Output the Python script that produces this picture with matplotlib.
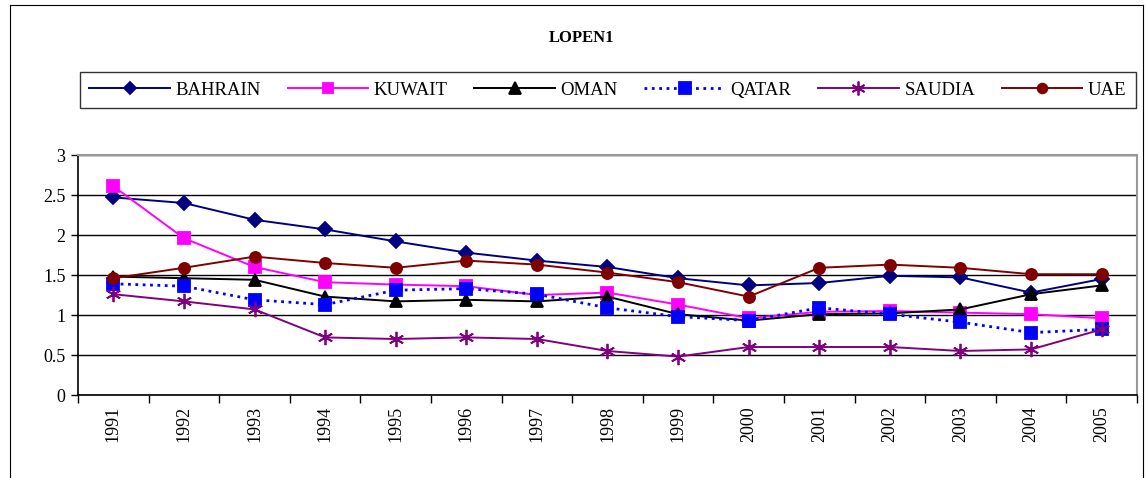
import matplotlib
matplotlib.use("Agg")
import matplotlib.pyplot as plt
from matplotlib.lines import Line2D

plt.rcParams['font.family'] = ['Liberation Serif', 'DejaVu Serif']

years = ['1991', '1992', '1993', '1994', '1995', '1996', '1997', '1998',
         '1999', '2000', '2001', '2002', '2003', '2004', '2005']

bahrain = [2.47, 2.40, 2.19, 2.07, 1.92, 1.78, 1.68, 1.60, 1.46, 1.37, 1.40, 1.49, 1.47, 1.28, 1.45]
kuwait = [2.61, 1.96, 1.60, 1.41, 1.38, 1.36, 1.25, 1.28, 1.13, 0.96, 1.04, 1.05, 1.03, 1.01, 0.96]
oman = [1.48, 1.46, 1.44, 1.23, 1.17, 1.19, 1.17, 1.23, 1.01, 0.93, 1.01, 1.02, 1.07, 1.26, 1.37]
qatar = [1.39, 1.36, 1.19, 1.13, 1.31, 1.33, 1.26, 1.09, 0.98, 0.93, 1.09, 1.01, 0.91, 0.78, 0.82]
saudia = [1.26, 1.17, 1.07, 0.72, 0.70, 0.72, 0.70, 0.55, 0.48, 0.60, 0.60, 0.60, 0.55, 0.57, 0.82]
uae = [1.46, 1.59, 1.73, 1.65, 1.59, 1.68, 1.63, 1.53, 1.41, 1.23, 1.59, 1.63, 1.59, 1.51, 1.51]

series = [
    ('BAHRAIN', bahrain, '#000080', 'D', '-', 7),
    ('KUWAIT', kuwait, '#FF00FF', 's', '-', 8),
    ('OMAN', oman, '#000000', '^', '-', 9),
    ('QATAR', qatar, '#0000FF', 's', ':', 9),
    ('SAUDIA', saudia, '#800080', (6, 2, 0), '-', 11),
    ('UAE', uae, '#800000', 'o', '-', 8),
]

fig = plt.figure(figsize=(11.46, 4.78), dpi=100)
ax = fig.add_axes([78 / 1146, 1 - 395 / 478, 1059 / 1146, 240 / 478])

x = list(range(len(years)))
handles = []
for name, vals, col, mk, ls, ms in series:
    lw = 2.0 if ls == ':' else 1.4
    ax.plot(x, vals, color=col, marker=mk, linestyle=ls, lw=lw, markersize=ms,
            markeredgecolor=col, markerfacecolor=col, markeredgewidth=1.3,
            clip_on=False, zorder=3)
    handles.append(Line2D([], [], color=col, marker=mk, linestyle=ls, lw=lw,
                          markersize=ms - 1, markeredgecolor=col,
                          markerfacecolor=col, markeredgewidth=1.3, label=name))

ax.set_xlim(-0.5, len(years) - 0.5)
ax.set_ylim(0, 3)
ax.set_yticks([0, 0.5, 1, 1.5, 2, 2.5, 3])
ax.set_yticklabels(['0', '0.5', '1', '1.5', '2', '2.5', '3'], fontsize=13)
ax.yaxis.grid(True, color='black', lw=1.0, zorder=0)
ax.set_axisbelow(True)

ax.set_xticks([i - 0.5 for i in range(len(years) + 1)])
ax.set_xticklabels([])
ax.set_xticks(x, minor=True)
ax.set_xticklabels(years, minor=True, rotation=90, fontsize=13)
ax.tick_params(axis='x', which='major', direction='out', length=6, width=1, color='black')
ax.tick_params(axis='x', which='minor', length=0, pad=8)
ax.tick_params(axis='y', direction='out', length=5, width=1, pad=4)

for s in ['top', 'right']:
    ax.spines[s].set_color('#999999')
    ax.spines[s].set_linewidth(1.5)
for s in ['left', 'bottom']:
    ax.spines[s].set_color('black')
    ax.spines[s].set_linewidth(1.2)

fig.text(582 / 1146, 1 - 38 / 478, 'LOPEN1', ha='center', va='center',
         fontsize=12, fontweight='bold')

leg = fig.legend(handles=handles, loc='lower left', ncol=6, mode='expand',
                 bbox_to_anchor=(80 / 1146, 1 - 108 / 478, 1056 / 1146, 41 / 478),
                 fontsize=13.5, frameon=True, fancybox=False, edgecolor='black',
                 handlelength=4.3, handletextpad=0.3, columnspacing=0.4,
                 borderaxespad=0.0, borderpad=0.5)
leg.get_frame().set_linewidth(1.0)

# outer chart border
fig.add_artist(Line2D([10 / 1146, 10 / 1146], [0, 1 - 5 / 478], color='black', lw=0.8))
fig.add_artist(Line2D([10 / 1146, 1143 / 1146], [1 - 5 / 478, 1 - 5 / 478], color='black', lw=0.8))
fig.add_artist(Line2D([1143 / 1146, 1143 / 1146], [0, 1 - 5 / 478], color='black', lw=0.8))

fig.savefig('out.png', dpi=100)
